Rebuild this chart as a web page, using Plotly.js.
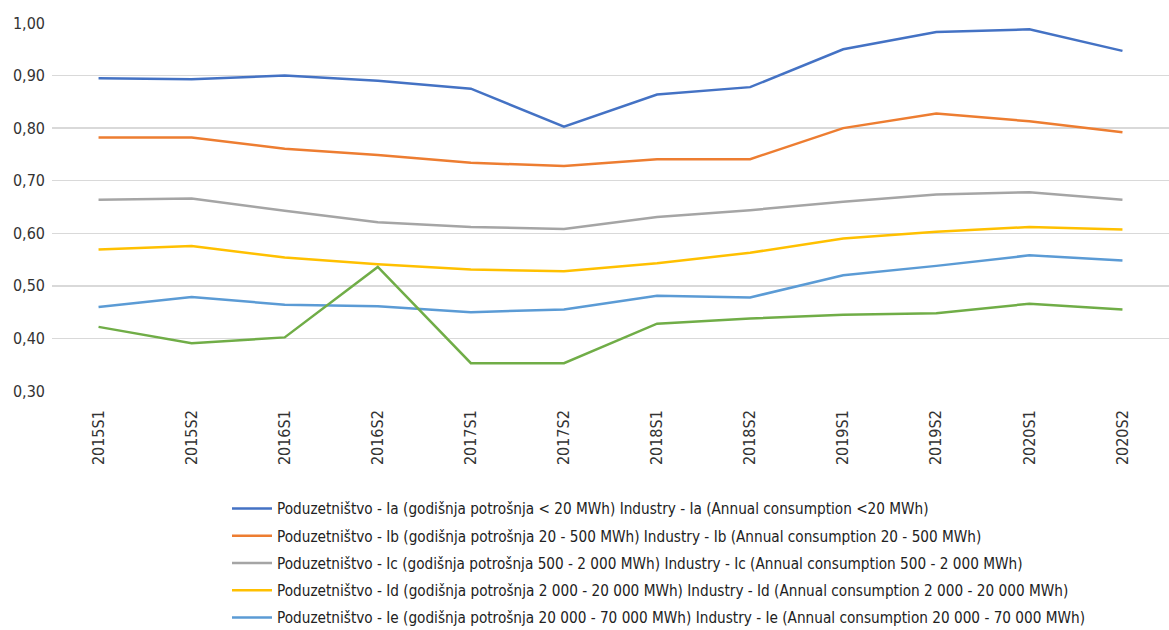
<!DOCTYPE html>
<html>
<head>
<meta charset="utf-8">
<script src="https://cdn.plot.ly/plotly-3.0.1.min.js"></script>
<style>html,body{margin:0;padding:0;background:#fff;}#chart{width:1169px;height:630px;}</style>
</head>
<body>
<div id="chart"></div>
<script>
const periods = ["2015S1","2015S2","2016S1","2016S2","2017S1","2017S2","2018S1","2018S2","2019S1","2019S2","2020S1","2020S2"];

const seriesNames = [
  "Poduzetništvo - Ia (godišnja potrošnja < 20 MWh) Industry - Ia (Annual consumption <20 MWh)",
  "Poduzetništvo - Ib (godišnja potrošnja 20 - 500 MWh) Industry - Ib (Annual consumption 20 - 500 MWh)",
  "Poduzetništvo - Ic (godišnja potrošnja 500 - 2 000 MWh) Industry - Ic (Annual consumption 500 - 2 000 MWh)",
  "Poduzetništvo - Id (godišnja potrošnja 2 000 - 20 000 MWh) Industry - Id (Annual consumption 2 000 - 20 000 MWh)",
  "Poduzetništvo - Ie (godišnja potrošnja 20 000 - 70 000 MWh) Industry - Ie (Annual consumption 20 000 - 70 000 MWh)",
  "Poduzetništvo - If (godišnja potrošnja 70 000 - 150 000 MWh) Industry - If (Annual consumption 70 000 - 150 000 MWh)"
];

const ia = [0.895,0.893,0.900,0.890,0.875,0.803,0.864,0.878,0.950,0.983,0.988,0.947];
const ib = [0.782,0.782,0.761,0.749,0.734,0.728,0.741,0.741,0.800,0.828,0.813,0.792];
const ic = [0.664,0.666,0.643,0.621,0.612,0.608,0.631,0.644,0.660,0.674,0.678,0.664];
const id = [0.569,0.576,0.554,0.541,0.531,0.528,0.543,0.563,0.590,0.603,0.612,0.607];
const ie = [0.460,0.479,0.464,0.461,0.450,0.455,0.481,0.478,0.520,0.538,0.558,0.548];
const iF = [0.422,0.391,0.402,0.536,0.353,0.353,0.428,0.438,0.445,0.448,0.466,0.455];

const colors = ["#4472C4","#ED7D31","#A5A5A5","#FFC000","#5B9BD5","#70AD47"];
const allValues = [ia, ib, ic, id, ie, iF];
const inLegend = [true,true,true,true,true,false];

const esc = s => s.replace(/</g, "&lt;").replace(/>/g, "&gt;");

const traces = allValues.map((vals, k) => ({
  type: "scatter",
  mode: "lines",
  x: periods,
  y: vals,
  name: esc(seriesNames[k]),
  legendgroup: "g" + k,
  showlegend: inLegend[k],
  line: {color: colors[k], width: 2.5},
  hoverinfo: "x+y"
}));

const FONT = "'Liberation Sans Narrow', 'DejaVu Sans Condensed', 'Open Sans', sans-serif";

const layout = {
  width: 1169,
  height: 630,
  paper_bgcolor: "#ffffff",
  plot_bgcolor: "#ffffff",
  margin: {l: 52, r: 0, t: 23, b: 239, autoexpand: false},
  font: {family: FONT, size: 15, color: "#333333"},
  separators: ", ",
  showlegend: true,
  xaxis: {
    type: "category",
    range: [-0.5, 11.5],
    tickangle: -90,
    showgrid: false,
    zeroline: false,
    showline: false,
    ticks: "",
    ticklabelstandoff: 15,
    tickfont: {family: FONT, size: 16, color: "#333333"}
  },
  yaxis: {
    range: [0.3, 1.0],
    dtick: 0.1,
    tick0: 0.3,
    tickformat: ".2f",
    showgrid: true,
    gridcolor: "#d9d9d9",
    gridwidth: 1.5,
    zeroline: false,
    showline: false,
    ticks: "",
    ticklabelstandoff: 6,
    tickfont: {family: FONT, size: 16, color: "#333333"}
  },
  legend: {
    orientation: "v",
    xref: "paper",
    yref: "paper",
    x: (227 - 52) / 1117,
    y: (391 - 492) / 368,
    xanchor: "left",
    yanchor: "top",
    traceorder: "grouped",
    tracegroupgap: 4.5,
    itemwidth: 40,
    bgcolor: "rgba(0,0,0,0)",
    font: {family: FONT, size: 15.2, color: "#222222"}
  }
};

Plotly.newPlot("chart", traces, layout, {displayModeBar: false, staticPlot: true});
</script>
</body>
</html>
